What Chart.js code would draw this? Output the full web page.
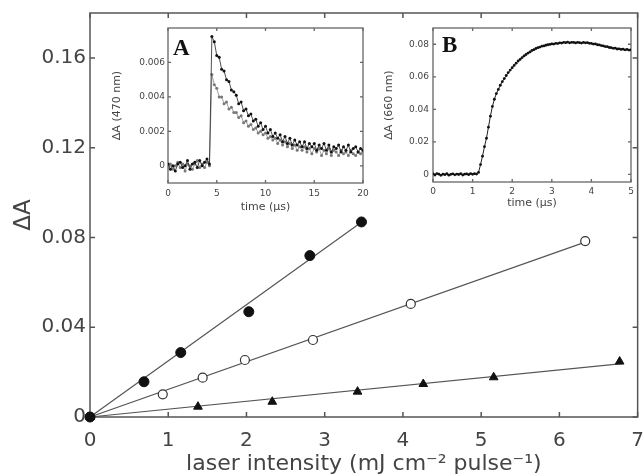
<!DOCTYPE html>
<html>
<head>
<meta charset="utf-8">
<script src="https://cdn.jsdelivr.net/npm/chart.js@4.4.1/dist/chart.umd.min.js"></script>
<style>
  html, body { margin: 0; padding: 0; background: #fff; }
  #wrap { position: relative; width: 644px; height: 476px; overflow: hidden; }
  canvas { position: absolute; }
  #main { left: 0; top: 0; }
  #insetA { left: 100px; top: 20px; }
  #insetB { left: 378px; top: 20px; }
</style>
</head>
<body>
<div id="wrap">
  <canvas id="main" width="644" height="476"></canvas>
  <canvas id="insetA" width="275" height="200"></canvas>
  <canvas id="insetB" width="258" height="200"></canvas>
</div>
<script>
// ---- Main plot: absorbance change vs laser intensity ----
const intensityFilled = [0, 0.69, 1.16, 2.03, 2.81, 3.47];
const absFilled       = [0, 0.0157, 0.0287, 0.0469, 0.0719, 0.0869];
const intensityOpen   = [0, 0.93, 1.44, 1.98, 2.85, 4.10, 6.33];
const absOpen         = [0, 0.0101, 0.0175, 0.0254, 0.0343, 0.0504, 0.0784];
const intensityTri    = [0, 1.38, 2.33, 3.42, 4.26, 5.16, 6.77];
const absTri          = [0, 0.0046, 0.0068, 0.0113, 0.0147, 0.0177, 0.0247];

// linear fits through the origin (end points)
const fitFilledX = [0, 3.5],  fitFilledY = [0, 0.0875];
const fitOpenX   = [0, 6.33], fitOpenY   = [0, 0.0779];
const fitTriX    = [0, 6.8],  fitTriY    = [0, 0.0238];

const mainXTicks = [0, 1, 2, 3, 4, 5, 6, 7];
const mainYTicks = [0, 0.04, 0.08, 0.12, 0.16];

// ---- Inset A: transient at 470 nm ----
const timeA = [0,0.25,0.5,0.75,1,1.25,1.5,1.75,2,2.25,2.5,2.75,3,3.25,3.5,3.75,4,4.25,
  4.5,4.75,5,5.25,5.5,5.75,6,6.25,6.5,6.75,7,7.25,7.5,7.75,8,8.25,8.5,8.75,9,9.25,9.5,9.75,
  10,10.25,10.5,10.75,11,11.25,11.5,11.75,12,12.25,12.5,12.75,13,13.25,13.5,13.75,14,14.25,
  14.5,14.75,15,15.25,15.5,15.75,16,16.25,16.5,16.75,17,17.25,17.5,17.75,18,18.25,18.5,18.75,
  19,19.25,19.5,19.75,20];
const absA470Black = [0.0001,-0.0002,0.0000,-0.0003,0.0001,0.0002,-0.0001,0.0000,0.0003,-0.0002,0.0001,0.0002,-0.0001,0.0003,0.0000,0.0002,0.0004,0.0001,
  0.0075,0.0072,0.0064,0.0063,0.0056,0.0055,0.0050,0.0049,0.0044,0.0043,0.0041,0.0036,0.0037,0.0032,0.0033,0.0029,0.0030,0.0026,0.0027,0.0023,0.0025,0.0021,
  0.0023,0.0019,0.0021,0.0017,0.0019,0.0016,0.0018,0.0014,0.0017,0.0013,0.0016,0.0012,0.0015,0.0012,0.0014,0.0011,0.0014,0.0010,
  0.0013,0.0011,0.0013,0.0009,0.0012,0.0010,0.0013,0.0009,0.0012,0.0008,0.0011,0.0010,0.0012,0.0008,0.0011,0.0009,0.0012,0.0008,
  0.0010,0.0011,0.0008,0.0010,0.0009];
const absA470Gray = [-0.0001,0.0001,-0.0002,0.0000,0.0002,-0.0001,0.0001,-0.0003,0.0001,0.0000,-0.0002,0.0001,0.0003,-0.0001,0.0001,-0.0001,0.0002,0.0000,
  0.0053,0.0047,0.0045,0.0040,0.0040,0.0036,0.0037,0.0033,0.0034,0.0031,0.0031,0.0028,0.0029,0.0025,0.0026,0.0023,0.0024,0.0021,0.0022,0.0019,0.0020,0.0018,
  0.0019,0.0016,0.0017,0.0015,0.0016,0.0013,0.0015,0.0012,0.0014,0.0011,0.0013,0.0010,0.0012,0.0009,0.0011,0.0009,0.0011,0.0008,
  0.0010,0.0007,0.0010,0.0008,0.0010,0.0006,0.0009,0.0007,0.0010,0.0006,0.0009,0.0008,0.0006,0.0009,0.0007,0.0008,0.0006,0.0009,
  0.0007,0.0006,0.0008,0.0007,0.0008];
const aXTicks = [0, 5, 10, 15, 20];
const aYTicks = [0, 0.002, 0.004, 0.006];

// ---- Inset B: rise at 660 nm ----
const timeB = [0,0.05,0.1,0.15,0.2,0.25,0.3,0.35,0.4,0.45,0.5,0.55,0.6,0.65,0.7,0.75,0.8,0.85,0.9,0.95,
  1,1.05,1.1,1.15,1.2,1.25,1.3,1.35,1.4,1.45,1.5,1.55,1.6,1.65,1.7,1.75,1.8,1.85,1.9,1.95,
  2,2.05,2.1,2.15,2.2,2.25,2.3,2.35,2.4,2.45,2.5,2.55,2.6,2.65,2.7,2.75,2.8,2.85,2.9,2.95,
  3,3.05,3.1,3.15,3.2,3.25,3.3,3.35,3.4,3.45,3.5,3.55,3.6,3.65,3.7,3.75,3.8,3.85,3.9,3.95,
  4,4.05,4.1,4.15,4.2,4.25,4.3,4.35,4.4,4.45,4.5,4.55,4.6,4.65,4.7,4.75,4.8,4.85,4.9,4.95,5];
const absB660 = [0.0003,-0.0004,0.0005,0.0001,-0.0006,0.0002,-0.0002,0.0004,-0.0005,0.0000,
  0.0003,-0.0003,0.0002,-0.0001,0.0004,-0.0004,0.0001,0.0003,-0.0002,0.0005,
  0.0000,0.0004,0.0002,0.0012,0.0060,0.0112,0.0170,0.0222,0.0290,0.0358,
  0.0418,0.0462,0.0497,0.0522,0.0548,0.0570,0.0589,0.0608,0.0626,0.0641,
  0.0656,0.0670,0.0684,0.0697,0.0707,0.0718,0.0728,0.0737,0.0746,0.0753,
  0.0762,0.0767,0.0774,0.0779,0.0783,0.0788,0.0790,0.0794,0.0797,0.0799,
  0.0802,0.0801,0.0806,0.0804,0.0809,0.0807,0.0812,0.0810,0.0813,0.0809,
  0.0812,0.0811,0.0808,0.0812,0.0810,0.0807,0.0811,0.0809,0.0810,0.0806,
  0.0805,0.0801,0.0802,0.0797,0.0796,0.0792,0.0790,0.0786,0.0785,0.0780,
  0.0779,0.0775,0.0776,0.0771,0.0772,0.0768,0.0770,0.0766,0.0768,0.0764,0.0766];
const bXTicks = [0, 1, 2, 3, 4, 5];
const bYTicks = [0, 0.02, 0.04, 0.06, 0.08];

const FAMILY = "'DejaVu Sans', sans-serif";
const TEXT = '#444';

const pts = (xs, ys) => xs.map((x, i) => ({ x, y: ys[i] }));

// box frame with inward ticks on all four sides
const frameTicks = {
  id: 'frameTicks',
  beforeDatasetsDraw(chart, args, o) {
    const { ctx, chartArea: a, scales } = chart;
    ctx.save();
    ctx.strokeStyle = o.color;
    ctx.lineWidth = o.width;
    ctx.strokeRect(a.left, a.top, a.right - a.left, a.bottom - a.top);
    ctx.beginPath();
    scales.x.ticks.forEach(t => {
      const p = scales.x.getPixelForValue(t.value);
      ctx.moveTo(p, a.bottom); ctx.lineTo(p, a.bottom - o.len);
      ctx.moveTo(p, a.top); ctx.lineTo(p, a.top + o.len);
    });
    scales.y.ticks.forEach(t => {
      const p = scales.y.getPixelForValue(t.value);
      ctx.moveTo(a.left, p); ctx.lineTo(a.left + o.len, p);
      ctx.moveTo(a.right, p); ctx.lineTo(a.right - o.len, p);
    });
    ctx.stroke();
    ctx.restore();
  }
};

// bold panel letter in the plot corner
const panelLetter = {
  id: 'panelLetter',
  afterDraw(chart, args, o) {
    if (!o.text) return;
    const { ctx, chartArea: a } = chart;
    ctx.save();
    ctx.fillStyle = '#111';
    ctx.font = "bold 23px 'Liberation Serif', serif";
    ctx.textBaseline = 'alphabetic';
    ctx.fillText(o.text, a.left + o.dx, a.top + o.dy);
    ctx.restore();
  }
};

// label offset comes from the (hidden) tick length so the plot box keeps its size
function axis(cfg) {
  return {
    type: 'linear',
    min: cfg.min, max: cfg.max,
    afterBuildTicks: s => { s.ticks = cfg.ticks.map(v => ({ value: v })); },
    afterFit: s => { if (cfg.width !== undefined) s.width = cfg.width; if (cfg.height !== undefined) s.height = cfg.height; },
    grid: { display: false, drawTicks: true, tickLength: cfg.gap },
    border: { display: false },
    ticks: {
      autoSkip: false, maxRotation: 0, padding: 0,
      color: cfg.tickColor || TEXT,
      font: { size: cfg.tickSize, family: FAMILY },
      callback: v => String(v)
    },
    title: {
      display: true, text: cfg.title, color: TEXT,
      font: { size: cfg.titleSize, family: FAMILY, lineHeight: 1 },
      padding: cfg.titlePad
    }
  };
}

const common = {
  responsive: false,
  animation: false,
  devicePixelRatio: 1,
  events: []
};

// ---- main chart ----
new Chart(document.getElementById('main'), {
  type: 'scatter',
  data: {
    datasets: [
      { data: pts(intensityFilled, absFilled), pointStyle: 'circle', pointRadius: 5,
        backgroundColor: '#111', borderColor: '#111', borderWidth: 1, clip: false },
      { data: pts(intensityOpen, absOpen), pointStyle: 'circle', pointRadius: 4.5,
        backgroundColor: '#fff', borderColor: '#333', borderWidth: 1.2, clip: false },
      { data: pts(intensityTri, absTri), pointStyle: 'triangle', pointRadius: 5,
        backgroundColor: '#111', borderColor: '#111', borderWidth: 1, clip: false },
      { data: pts(fitFilledX, fitFilledY), showLine: true, pointRadius: 0,
        borderColor: '#555', borderWidth: 1.2, clip: false },
      { data: pts(fitOpenX, fitOpenY), showLine: true, pointRadius: 0,
        borderColor: '#555', borderWidth: 1.2, clip: false },
      { data: pts(fitTriX, fitTriY), showLine: true, pointRadius: 0,
        borderColor: '#555', borderWidth: 1.2, clip: false }
    ]
  },
  options: {
    ...common,
    layout: { padding: { top: 13, right: 5, left: 0, bottom: 0 } },
    plugins: {
      legend: { display: false }, tooltip: { enabled: false },
      frameTicks: { color: '#555', width: 1.5, len: 5 }
    },
    scales: {
      x: axis({ min: 0, max: 7, ticks: mainXTicks, height: 59, gap: 12, tickSize: 20,
        title: 'laser intensity (mJ cm\u207B\u00B2 pulse\u207B\u00B9)', titleSize: 22,
        titlePad: { top: 0, bottom: 1 } }),
      y: axis({ min: 0, max: 0.18, ticks: mainYTicks, width: 90, gap: 4, tickSize: 20,
        title: '\u0394A', titleSize: 23, titlePad: { top: 13, bottom: 0 } })
    }
  },
  plugins: [frameTicks]
});

// ---- inset A ----
new Chart(document.getElementById('insetA'), {
  type: 'scatter',
  data: {
    datasets: [
      { data: pts(timeA, absA470Black), showLine: true, borderColor: '#222', borderWidth: 0.8,
        pointRadius: 1.5, pointBackgroundColor: '#111', pointBorderWidth: 0 },
      { data: pts(timeA, absA470Gray), showLine: true, borderColor: '#888', borderWidth: 0.8,
        pointRadius: 1.5, pointBackgroundColor: '#777', pointBorderWidth: 0 }
    ]
  },
  options: {
    ...common,
    layout: { padding: { top: 8, right: 12, left: 0, bottom: 0 } },
    plugins: {
      legend: { display: false }, tooltip: { enabled: false },
      frameTicks: { color: '#666', width: 1.3, len: 3 },
      panelLetter: { text: 'A', dx: 5, dy: 27 }
    },
    scales: {
      x: axis({ min: 0, max: 20, ticks: aXTicks, height: 37, gap: 5, tickSize: 9,
        title: 'time (\u03BCs)', titleSize: 11, titlePad: { top: 0, bottom: 7 } }),
      y: axis({ min: -0.001, max: 0.008, ticks: aYTicks, width: 68, gap: 3, tickSize: 9,
        title: '\u0394A (470 nm)', titleSize: 11, titlePad: { top: 12, bottom: 0 } })
    }
  },
  plugins: [frameTicks, panelLetter]
});

// ---- inset B ----
new Chart(document.getElementById('insetB'), {
  type: 'scatter',
  data: {
    datasets: [
      { data: pts(timeB, absB660), showLine: true, borderColor: '#222', borderWidth: 1,
        pointRadius: 1.4, pointBackgroundColor: '#111', pointBorderWidth: 0 }
    ]
  },
  options: {
    ...common,
    layout: { padding: { top: 8, right: 5, left: 0, bottom: 0 } },
    plugins: {
      legend: { display: false }, tooltip: { enabled: false },
      frameTicks: { color: '#666', width: 1.3, len: 3 },
      panelLetter: { text: 'B', dx: 9, dy: 24 }
    },
    scales: {
      x: axis({ min: 0, max: 5, ticks: bXTicks, height: 38, gap: 4, tickSize: 9,
        title: 'time (\u03BCs)', titleSize: 11, titlePad: { top: 0, bottom: 11 } }),
      y: axis({ min: -0.0047, max: 0.09, ticks: bYTicks, width: 55, gap: 4, tickSize: 9,
        title: '\u0394A (660 nm)', titleSize: 11, titlePad: { top: 6, bottom: 0 } })
    }
  },
  plugins: [frameTicks, panelLetter]
});
</script>
</body>
</html>
